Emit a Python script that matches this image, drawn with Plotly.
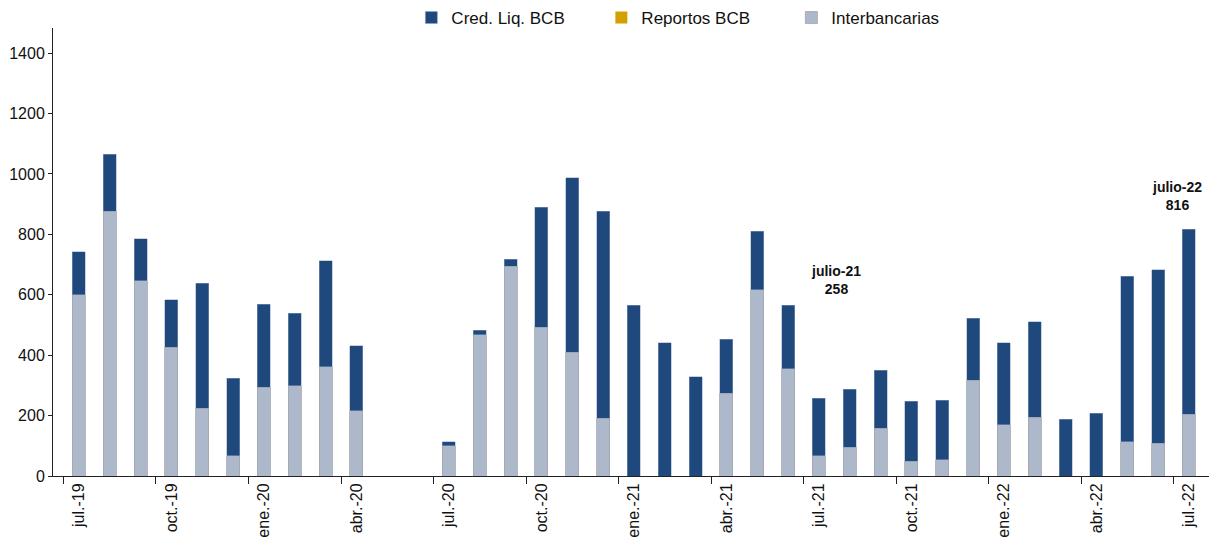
import plotly.graph_objects as go

months = ["jul.-19", "ago.-19", "sep.-19", "oct.-19", "nov.-19", "dic.-19",
          "ene.-20", "feb.-20", "mar.-20", "abr.-20", "may.-20", "jun.-20",
          "jul.-20", "ago.-20", "sep.-20", "oct.-20", "nov.-20", "dic.-20",
          "ene.-21", "feb.-21", "mar.-21", "abr.-21", "may.-21", "jun.-21",
          "jul.-21", "ago.-21", "sep.-21", "oct.-21", "nov.-21", "dic.-21",
          "ene.-22", "feb.-22", "mar.-22", "abr.-22", "may.-22", "jun.-22",
          "jul.-22"]

interbancarias = [600, 876, 647, 427, 225, 67, 294, 299, 362, 216, 0, 0,
                  100, 467, 695, 493, 410, 191, 0, 0, 0, 274, 617, 355,
                  67, 96, 158, 49, 53, 317, 170, 195, 0, 0, 114, 108, 204]
reportos_bcb = [0] * 37
cred_liq_bcb = [143, 189, 139, 156, 413, 256, 275, 240, 350, 215, 0, 0,
                14, 16, 22, 396, 578, 685, 565, 441, 329, 179, 194, 210,
                191, 191, 192, 198, 197, 205, 271, 315, 188, 208, 547, 574, 612]

callouts = [("julio-21", 24, 258, 648), ("julio-22", 36, 816, 926)]

FONT = "Liberation Sans, Arial, sans-serif"
idx = list(range(len(months)))

fig = go.Figure()
fig.add_trace(go.Bar(x=idx, y=interbancarias, name="Interbancarias",
                     marker=dict(color="#ADB9CA", line=dict(color="#A0A6AE", width=0.8))))
fig.add_trace(go.Bar(x=idx, y=reportos_bcb, name="Reportos BCB",
                     marker=dict(color="#D4A000", line=dict(width=0))))
fig.add_trace(go.Bar(x=idx, y=cred_liq_bcb, name="Cred. Liq. BCB",
                     marker=dict(color="#1F497D", line=dict(color="#8FA3C2", width=0.5))))

for label, i, val, ypos in callouts:
    fig.add_annotation(x=i, y=ypos, xref="x", yref="y", xshift=-12 if i == 36 else 17,
                       text=f"<b>{label}</b><br><b>{val}</b>", showarrow=False,
                       font=dict(family=FONT, size=14, color="#111111"),
                       align="center", yanchor="middle")

tick_idx = idx[::3]
# page body has an 8px margin, so the figure is drawn 8px in from the top-left
fig.update_layout(
    width=1210, height=542,
    barmode="stack", bargap=0.58,
    plot_bgcolor="white", paper_bgcolor="white",
    margin=dict(l=45, r=9, t=20, b=74, autoexpand=False),
    font=dict(family=FONT, size=16, color="#111111"),
    showlegend=True,
    legend=dict(orientation="h", x=0.31, xanchor="left", y=1.0223,
                yanchor="middle", traceorder="reversed", entrywidth=145,
                entrywidthmode="pixels", font=dict(size=17), bgcolor="rgba(0,0,0,0)"),
    xaxis=dict(range=[-0.84, 36.65], tickmode="array", tickvals=tick_idx,
               ticktext=[months[i] for i in tick_idx], tickangle=-90,
               ticks="", showline=True, linecolor="#222222", linewidth=1,
               showgrid=False, zeroline=False, tickfont=dict(size=16), automargin=False,
               minor=dict(tickmode="array", tickvals=[i - 0.5 for i in tick_idx],
                          ticks="outside", ticklen=7, tickcolor="#222222", showgrid=False)),
    yaxis=dict(range=[0, 1483], dtick=200, tick0=0, ticks="outside", ticklen=4,
               tickcolor="#222222", showline=True, linecolor="#222222", linewidth=1,
               showgrid=False, zeroline=False, tickfont=dict(size=16), automargin=False),
)

fig.write_html("out.html")
